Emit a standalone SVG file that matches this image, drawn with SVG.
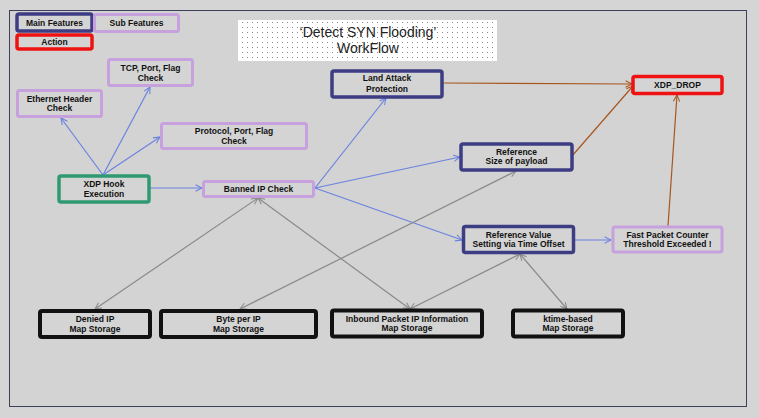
<svg xmlns="http://www.w3.org/2000/svg" width="759" height="418" viewBox="0 0 759 418">
<defs>
<pattern id="dots" width="5" height="5" patternUnits="userSpaceOnUse"><rect width="5" height="5" fill="#ffffff"/><rect x="2" y="2" width="1" height="1" fill="#8a8a8a"/></pattern>
<marker id="ab" viewBox="0 0 10 10" refX="9" refY="5" markerWidth="8" markerHeight="8" markerUnits="userSpaceOnUse" orient="auto-start-reverse"><path d="M1,1 L9,5 L1,9" fill="none" stroke="#6a82e0" stroke-width="1.3"/></marker>
<marker id="ao" viewBox="0 0 10 10" refX="9" refY="5" markerWidth="8" markerHeight="8" markerUnits="userSpaceOnUse" orient="auto-start-reverse"><path d="M1,1 L9,5 L1,9" fill="none" stroke="#a8561f" stroke-width="1.3"/></marker>
<marker id="ag" viewBox="0 0 10 10" refX="9" refY="5" markerWidth="8" markerHeight="8" markerUnits="userSpaceOnUse" orient="auto-start-reverse"><path d="M1,1 L9,5 L1,9" fill="none" stroke="#8a8a8a" stroke-width="1.3"/></marker>
</defs>
<style>
.n rect{fill:#d4d4d4;}
.main rect{stroke:#3d3d84;stroke-width:3.5;}
.sub rect{stroke:#c7a0de;stroke-width:3;}
.act rect{stroke:#ee1212;stroke-width:3.5;}
.hook rect{stroke:#2f9a72;stroke-width:3.5;}
.store rect{stroke:#111111;stroke-width:4;}
.n text{font-family:"Liberation Sans",Arial,sans-serif;font-weight:bold;font-size:8.5px;fill:#111;text-anchor:middle;}
.cb{stroke:#6a82e0;stroke-width:1.2;fill:none;marker-end:url(#ab);}
.co{stroke:#a8561f;stroke-width:1.2;fill:none;marker-end:url(#ao);}
.cg{stroke:#8a8a8a;stroke-width:1.2;fill:none;marker-end:url(#ag);marker-start:url(#ag);}
</style>
<rect width="759" height="418" fill="#d5d5d5"/>
<rect x="9.5" y="10.5" width="737" height="396" fill="#d3d3d3" stroke="#3c4058" stroke-width="1"/>

<g id="title">
<rect x="238" y="20" width="259" height="41" fill="url(#dots)"/>
<text x="368" y="37" font-family="Liberation Sans,Arial,sans-serif" font-size="14" text-anchor="middle" fill="#222">‘Detect SYN Flooding’</text>
<text x="368" y="53" font-family="Liberation Sans,Arial,sans-serif" font-size="14" text-anchor="middle" fill="#222">WorkFlow</text>
</g>

<g id="connectors">
<line class="cb" x1="103" y1="175" x2="61" y2="118"/>
<line class="cb" x1="103" y1="175" x2="150" y2="87"/>
<line class="cb" x1="103" y1="175" x2="160" y2="137"/>
<line class="cb" x1="150" y1="188" x2="202" y2="188"/>
<line class="cb" x1="315" y1="188" x2="386" y2="98"/>
<line class="cb" x1="315" y1="188" x2="460" y2="157"/>
<line class="cb" x1="315" y1="188" x2="462" y2="240"/>
<line class="cb" x1="575" y1="240" x2="611" y2="240"/>
<line class="co" x1="443" y1="83" x2="632" y2="84"/>
<line class="co" x1="572" y1="156" x2="633" y2="86"/>
<line class="co" x1="668" y1="226" x2="677" y2="95"/>
<line class="cg" x1="258" y1="198" x2="95" y2="309"/>
<line class="cg" x1="258" y1="198" x2="410" y2="309"/>
<line class="cg" x1="240" y1="309" x2="516" y2="171"/>
<line class="cg" x1="410" y1="309" x2="520" y2="254"/>
<line class="cg" x1="567" y1="309" x2="520" y2="254"/>
</g>

<g id="legend-main" class="n main"><rect x="17" y="14" width="75" height="17" rx="2"/><text x="54.5" y="25.5">Main Features</text></g>
<g id="legend-sub" class="n sub"><rect x="94.5" y="14.5" width="84" height="17" rx="2"/><text x="136.5" y="26">Sub Features</text></g>
<g id="legend-action" class="n act"><rect x="17" y="35" width="75" height="14" rx="2"/><text x="54.5" y="45">Action</text></g>

<g id="tcp" class="n sub"><rect x="108.5" y="59.5" width="84" height="26" rx="2"/><text x="150.5" y="71">TCP, Port, Flag</text><text x="150.5" y="80.5">Check</text></g>
<g id="ethernet" class="n sub"><rect x="17.5" y="90.5" width="84" height="26" rx="2"/><text x="59.5" y="102">Ethernet Header</text><text x="59.5" y="111">Check</text></g>
<g id="protocol" class="n sub"><rect x="161.5" y="123.5" width="145" height="25" rx="2"/><text x="234" y="134">Protocol, Port, Flag</text><text x="234" y="143.5">Check</text></g>
<g id="xdphook" class="n hook"><rect x="59" y="176" width="90" height="26" rx="2"/><text x="104" y="187">XDP Hook</text><text x="104" y="196.5">Execution</text></g>
<g id="banned" class="n sub"><rect x="203.5" y="181.5" width="110" height="15" rx="2"/><text x="258.5" y="192">Banned IP Check</text></g>
<g id="land" class="n main"><rect x="332" y="71" width="110" height="26" rx="2"/><text x="387" y="81">Land Attack</text><text x="387" y="91.5">Protection</text></g>
<g id="xdpdrop" class="n act"><rect x="633" y="76.5" width="89" height="17" rx="2"/><text x="677.5" y="88">XDP_DROP</text></g>
<g id="refsize" class="n main"><rect x="461" y="144" width="111" height="26" rx="2"/><text x="516.5" y="154.5">Reference</text><text x="516.5" y="164">Size of payload</text></g>
<g id="refvalue" class="n main"><rect x="463.5" y="226.5" width="110" height="26" rx="2"/><text x="518.5" y="238">Reference Value</text><text x="518.5" y="247">Setting via Time Offset</text></g>
<g id="fastpacket" class="n sub"><rect x="613" y="227" width="109" height="25" rx="2"/><text x="667.5" y="238">Fast Packet Counter</text><text x="667.5" y="247">Threshold Exceeded !</text></g>
<g id="denied" class="n store"><rect x="40" y="311" width="110" height="26" rx="2"/><text x="95" y="322">Denied IP</text><text x="95" y="331.5">Map Storage</text></g>
<g id="byteperip" class="n store"><rect x="161" y="311" width="155" height="26" rx="2"/><text x="238.5" y="322">Byte per IP</text><text x="238.5" y="331.5">Map Storage</text></g>
<g id="inbound" class="n store"><rect x="332" y="310.5" width="150" height="26" rx="2"/><text x="407" y="321.5">Inbound Packet IP Information</text><text x="407" y="331">Map Storage</text></g>
<g id="ktime" class="n store"><rect x="513" y="310.5" width="110" height="26" rx="2"/><text x="568" y="321.5">ktime-based</text><text x="568" y="331">Map Storage</text></g>
</svg>
